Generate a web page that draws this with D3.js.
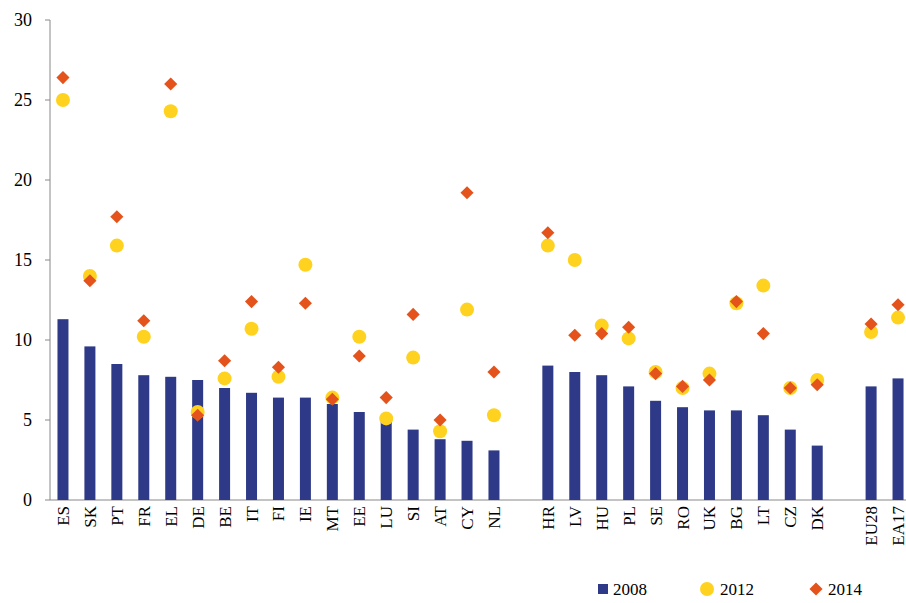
<!DOCTYPE html>
<html lang="en">
<head>
<meta charset="utf-8">
<script src="https://d3js.org/d3.v7.min.js"></script>
<style>
body { margin: 0; background: #fff; }
text { font-family: "Liberation Serif", "Times New Roman", serif; }
</style>
</head>
<body>
<div id="chart"></div>
<script>
var categories = ["ES","SK","PT","FR","EL","DE","BE","IT","FI","IE","MT","EE","LU","SI","AT","CY","NL","gap1",
  "HR","LV","HU","PL","SE","RO","UK","BG","LT","CZ","DK","gap2","EU28","EA17"];
var v2008 = [11.3,9.6,8.5,7.8,7.7,7.5,7.0,6.7,6.4,6.4,6.0,5.5,4.9,4.4,3.8,3.7,3.1,null,
  8.4,8.0,7.8,7.1,6.2,5.8,5.6,5.6,5.3,4.4,3.4,null,7.1,7.6];
var v2012 = [25.0,14.0,15.9,10.2,24.3,5.5,7.6,10.7,7.7,14.7,6.4,10.2,5.1,8.9,4.3,11.9,5.3,null,
  15.9,15.0,10.9,10.1,8.0,7.0,7.9,12.3,13.4,7.0,7.5,null,10.5,11.4];
var v2014 = [26.4,13.7,17.7,11.2,26.0,5.3,8.7,12.4,8.3,12.3,6.3,9.0,6.4,11.6,5.0,19.2,8.0,null,
  16.7,10.3,10.4,10.8,7.9,7.1,7.5,12.4,10.4,7.0,7.2,null,11.0,12.2];
var yTicks = [0,5,10,15,20,25,30];

var W = 906, H = 603;
var svg = d3.select("#chart").append("svg").attr("width", W).attr("height", H);
var x = d3.scaleBand().domain(categories).range([49.5, 911.5]);
var y = d3.scaleLinear().domain([0, 30]).range([500, 20]);
var navy = "#2e3a87", yellow = "#ffd21f", orange = "#e4531b";

// y axis
svg.append("line").attr("x1", 50).attr("x2", 50).attr("y1", 20).attr("y2", 500).attr("stroke", "#888");
yTicks.forEach(function (t) {
  svg.append("line").attr("x1", 45).attr("x2", 50).attr("y1", y(t)).attr("y2", y(t)).attr("stroke", "#888");
  svg.append("text").attr("x", 32).attr("y", y(t) + 6).attr("text-anchor", "end")
    .attr("font-size", 18).text(t);
});
svg.append("line").attr("x1", 50).attr("x2", 906).attr("y1", 500).attr("y2", 500).attr("stroke", "#888");

var data = categories.map(function (c, i) { return {c: c, a: v2008[i], b: v2012[i], d: v2014[i]}; })
  .filter(function (d) { return d.a !== null; });

svg.selectAll(".bar").data(data).enter().append("rect")
  .attr("x", function (d) { return x(d.c) + x.bandwidth() / 2 - 5.5; })
  .attr("width", 11)
  .attr("y", function (d) { return y(d.a); })
  .attr("height", function (d) { return 500 - y(d.a); })
  .attr("fill", navy);

svg.selectAll(".dot").data(data).enter().append("circle")
  .attr("cx", function (d) { return x(d.c) + x.bandwidth() / 2; })
  .attr("cy", function (d) { return y(d.b); })
  .attr("r", 7).attr("fill", yellow);

var diamond = d3.symbol().type(d3.symbolDiamond2).size(110);
svg.selectAll(".dia").data(data).enter().append("path")
  .attr("d", diamond)
  .attr("transform", function (d) { return "translate(" + (x(d.c) + x.bandwidth() / 2) + "," + y(d.d) + ")"; })
  .attr("fill", orange);

svg.selectAll(".lab").data(data).enter().append("text")
  .attr("transform", function (d) { return "translate(" + (x(d.c) + x.bandwidth() / 2 + 6) + ",506) rotate(-90)"; })
  .attr("text-anchor", "end").attr("font-size", 17).text(function (d) { return d.c; });

// legend
var ly = 589;
svg.append("rect").attr("x", 598).attr("y", ly - 5).attr("width", 10).attr("height", 10).attr("fill", navy);
svg.append("text").attr("x", 613).attr("y", ly + 6).attr("font-size", 17).text("2008");
svg.append("circle").attr("cx", 707).attr("cy", ly).attr("r", 7).attr("fill", yellow);
svg.append("text").attr("x", 720).attr("y", ly + 6).attr("font-size", 17).text("2012");
svg.append("path").attr("d", diamond).attr("transform", "translate(816," + ly + ")").attr("fill", orange);
svg.append("text").attr("x", 828).attr("y", ly + 6).attr("font-size", 17).text("2014");
</script>
</body>
</html>
